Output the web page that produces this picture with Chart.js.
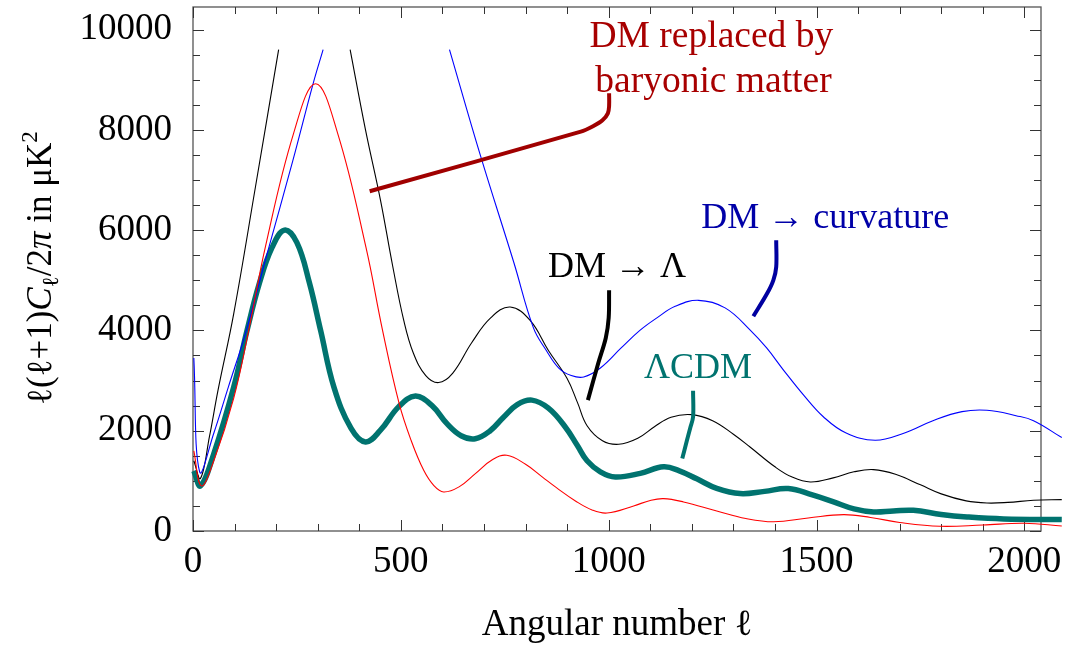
<!DOCTYPE html>
<html>
<head>
<meta charset="utf-8">
<script src="https://cdn.jsdelivr.net/npm/chart.js@4.4.1/dist/chart.umd.min.js"></script>
<style>
  html, body { margin: 0; padding: 0; background: #fff; }
  #wrap { width: 1069px; height: 645px; }
</style>
</head>
<body>
<div id="wrap"><canvas id="cl" width="1069" height="645"></canvas></div>
<script>
// ===== Spectra: multipole ℓ vs ℓ(ℓ+1)C_ℓ/2π in μK² =====
const lcdmL  = [2, 18, 50, 98, 130, 160, 190, 220, 250, 280, 307, 339, 380, 415, 451, 495, 535, 575, 611, 645, 679, 715, 747, 780, 815, 855, 896, 925, 948, 980, 1016, 1076, 1132, 1170, 1212, 1260, 1316, 1375, 1432, 1490, 1541, 1590, 1637, 1685, 1733, 1800, 1862, 1950, 2090];
const lcdmV  = [1200, 900, 1540, 2870, 4000, 4950, 5650, 6000, 5750, 4950, 4000, 2870, 2050, 1775, 2010, 2480, 2690, 2500, 2140, 1900, 1840, 2000, 2270, 2520, 2610, 2450, 2070, 1700, 1400, 1180, 1077, 1150, 1280, 1200, 1040, 850, 746, 790, 846, 720, 580, 440, 380, 400, 413, 330, 280, 240, 230];

const baryonL = [2, 20, 50, 98, 134, 174, 242, 295, 348, 416, 456, 496, 525, 555, 580, 603, 640, 680, 720, 755, 800, 840, 875, 920, 960, 996, 1060, 1100, 1132, 1180, 1260, 1330, 1397, 1480, 1565, 1630, 1700, 1797, 1900, 2000, 2090];
const baryonV = [1600, 900, 1400, 2650, 4000, 5660, 7930, 8920, 7930, 5660, 4000, 2540, 1800, 1210, 900, 778, 880, 1150, 1420, 1510, 1330, 1080, 860, 600, 420, 359, 500, 610, 646, 580, 400, 250, 185, 260, 327, 270, 170, 94, 120, 155, 100];

// null = off the top of the plot range
const lambdaL = [2, 18, 40, 60, 98, 150, 206, 290, 378, 415, 451, 480, 507, 530, 560, 591, 625, 670, 716, 763, 811, 855, 900, 925, 948, 985, 1024, 1070, 1110, 1150, 1200, 1250, 1300, 1340, 1400, 1440, 1485, 1540, 1590, 1637, 1690, 1750, 1800, 1860, 1910, 1960, 2022, 2090];
const lambdaV = [1400, 1050, 1900, 2800, 4336, 6850, 9600, null, 9600, 8000, 6600, 5300, 4200, 3550, 3100, 2960, 3150, 3750, 4250, 4467, 4200, 3600, 3040, 2560, 2100, 1800, 1729, 1850, 2080, 2270, 2320, 2200, 1930, 1675, 1280, 1080, 977, 1060, 1180, 1224, 1130, 920, 740, 600, 558, 570, 612, 626];

const curvL = [2, 16, 50, 85, 126, 178, 240, 289, 313, 460, 617, 691, 772, 819, 850, 880, 910, 940, 980, 1030, 1075, 1116, 1160, 1216, 1280, 1341, 1380, 1421, 1470, 1517, 1570, 1641, 1710, 1780, 1850, 1910, 1980, 2022, 2090];
const curvV = [3450, 1180, 1950, 2870, 3937, 5520, 7380, 8923, 9600, null, 9600, 7500, 5350, 4050, 3600, 3250, 3100, 3071, 3250, 3650, 4000, 4250, 4480, 4600, 4450, 4003, 3650, 3205, 2700, 2274, 1960, 1809, 1950, 2200, 2380, 2407, 2300, 2200, 1863];

// leader lines from the labels to their curves
const baryonLeadL = [425, 933, 962, 985, 998, 1001, 1001];
const baryonLeadV = [6776, 7964, 8070, 8190, 8330, 8480, 8730];
const lambdaLeadL = [1001, 1000, 993, 975, 950];
const lambdaLeadV = [4800, 4250, 3850, 3350, 2610];
const curvLeadL   = [1403, 1403, 1396, 1381, 1348];
const curvLeadV   = [5800, 5265, 5000, 4735, 4282];
const lcdmLeadL   = [1203, 1203, 1196, 1188, 1177];
const lcdmLeadV   = [2795, 2275, 2050, 1800, 1445];

// axes
const xMajor = [0, 500, 1000, 1500, 2000];
const xMinor = [100, 200, 300, 400, 600, 700, 800, 900, 1100, 1200, 1300, 1400, 1600, 1700, 1800, 1900];
const yMajor = [0, 2000, 4000, 6000, 8000, 10000];
const yMinor = [500, 1000, 1500, 2500, 3000, 3500, 4500, 5000, 5500, 6500, 7000, 7500, 8500, 9000, 9500];

const TEAL = '#00736f';
const SERIF = "'Liberation Serif', 'Times New Roman', serif";

const callouts = [
  { text: 'DM replaced by',  l: 1247, v: 9657, color: '#a80000', size: 37.5 },
  { text: 'baryonic matter', l: 1252, v: 8749, color: '#a80000', size: 37.5 },
  { text: 'DM \u2192 \u039b',  l: 1020, v: 5066, color: '#000000', size: 36 },
  { text: 'DM \u2192 curvature', l: 1521, v: 6043, color: '#0000a8', size: 36 },
  { text: '\u039bCDM',       l: 1215, v: 3059, color: TEAL, size: 36 }
];

const pts = (ls, vs) => ls.map((l, i) => ({ x: l, y: vs[i] }));

function curve(data, color, width, extra) {
  return Object.assign({
    data, borderColor: color, borderWidth: width,
    pointRadius: 0, fill: false, clip: false,
    tension: 0.4, spanGaps: false, borderJoinStyle: 'round'
  }, extra || {});
}

function leader(data, color) {
  return curve(data, color, 4, { tension: 0.35, borderCapStyle: 'butt' });
}

// ===== Frame with inward ticks on all four sides, plus callout text =====
const frameTicks = {
  id: 'frameTicks',
  beforeDatasetsDraw(chart) {
    const { ctx, chartArea: a, scales: { x, y } } = chart;
    ctx.save();
    ctx.strokeStyle = '#555';
    ctx.lineWidth = 1.3;
    ctx.strokeRect(a.left, a.top, a.right - a.left, a.bottom - a.top);
    ctx.strokeStyle = '#333';
    ctx.lineWidth = 1;
    ctx.beginPath();
    const xt = (vals, len) => vals.forEach(v => {
      const px = Math.round(x.getPixelForValue(v)) + 0.5;
      ctx.moveTo(px, a.bottom); ctx.lineTo(px, a.bottom - len);
      ctx.moveTo(px, a.top);    ctx.lineTo(px, a.top + len);
    });
    const yt = (vals, len) => vals.forEach(v => {
      const py = Math.round(y.getPixelForValue(v)) + 0.5;
      ctx.moveTo(a.left, py);  ctx.lineTo(a.left + len, py);
      ctx.moveTo(a.right, py); ctx.lineTo(a.right - len, py);
    });
    xt(xMajor, 11); xt(xMinor, 7);
    yt(yMajor, 11); yt(yMinor, 7);
    ctx.stroke();
    ctx.restore();
  },
  afterDatasetsDraw(chart) {
    const { ctx, scales: { x, y } } = chart;
    ctx.save();
    ctx.textAlign = 'center';
    ctx.textBaseline = 'alphabetic';
    callouts.forEach(c => {
      ctx.font = c.size + 'px ' + SERIF;
      ctx.fillStyle = c.color;
      ctx.fillText(c.text, x.getPixelForValue(c.l), y.getPixelForValue(c.v));
    });
    ctx.restore();
  }
};

// ===== y axis title: ℓ(ℓ+1)C_ℓ/2π in μK² =====
const yTitle = {
  id: 'yTitle',
  afterDraw(chart) {
    const { ctx } = chart;
    const size = 35;
    const parts = [
      { t: '\u2113(\u2113+1)', f: size, style: '' },
      { t: 'C', f: size, style: 'italic ' },
      { t: '\u2113', f: size * 0.66, style: '', dy: 7 },
      { t: '/2', f: size, style: '' },
      { t: '\u03c0', f: size, style: 'italic ' },
      { t: ' in \u03bcK', f: size, style: '' },
      { t: '2', f: size * 0.66, style: '', dy: -14 }
    ];
    ctx.save();
    let total = 0;
    parts.forEach(p => {
      ctx.font = p.style + p.f + 'px ' + SERIF;
      p.w = ctx.measureText(p.t).width;
      total += p.w;
    });
    ctx.translate(51, 268);
    ctx.rotate(-Math.PI / 2);
    ctx.fillStyle = '#000';
    ctx.textBaseline = 'alphabetic';
    let cx = -total / 2;
    parts.forEach(p => {
      ctx.font = p.style + p.f + 'px ' + SERIF;
      ctx.fillText(p.t, cx, p.dy || 0);
      cx += p.w;
    });
    ctx.restore();
  }
};

new Chart(document.getElementById('cl'), {
  type: 'line',
  data: {
    datasets: [
      leader(pts(baryonLeadL, baryonLeadV), '#a00000'),
      leader(pts(lambdaLeadL, lambdaLeadV), '#000000'),
      leader(pts(curvLeadL, curvLeadV), '#0000a0'),
      leader(pts(lcdmLeadL, lcdmLeadV), TEAL),
      curve(pts(baryonL, baryonV), '#ff0000', 1.1),
      curve(pts(curvL, curvV), '#0000ff', 1.1),
      curve(pts(lambdaL, lambdaV), '#000000', 1.1),
      curve(pts(lcdmL, lcdmV), TEAL, 5.5)
    ]
  },
  options: {
    responsive: false,
    animation: false,
    devicePixelRatio: 1,
    layout: { padding: { left: 0, top: 7, right: 28, bottom: 0 } },
    plugins: { legend: { display: false }, tooltip: { enabled: false } },
    scales: {
      x: {
        type: 'linear', min: 0, max: 2040,
        grid: { display: false }, border: { display: false },
        afterBuildTicks: s => { s.ticks = xMajor.map(v => ({ value: v })); },
        afterFit: s => { s.height = 114; s.paddingLeft = 0; s.paddingRight = 0; },
        ticks: {
          font: { family: SERIF, size: 37 }, color: '#000', padding: 1,
          maxRotation: 0, autoSkip: false, callback: v => String(v)
        },
        title: {
          display: true, text: 'Angular number \u2113', color: '#000',
          font: { family: SERIF, size: 37, lineHeight: 1.0 }, padding: { top: 0, bottom: 1 }
        }
      },
      y: {
        type: 'linear', min: 0, max: 10450,
        grid: { display: false }, border: { display: false },
        afterBuildTicks: s => { s.ticks = yMajor.map(v => ({ value: v })); },
        afterFit: s => { s.width = 193; s.paddingTop = 0; s.paddingBottom = 0; },
        ticks: {
          font: { family: SERIF, size: 37 }, color: '#000', padding: 13,
          autoSkip: false, callback: v => String(v)
        }
      }
    }
  },
  plugins: [frameTicks, yTitle]
});
</script>
</body>
</html>
